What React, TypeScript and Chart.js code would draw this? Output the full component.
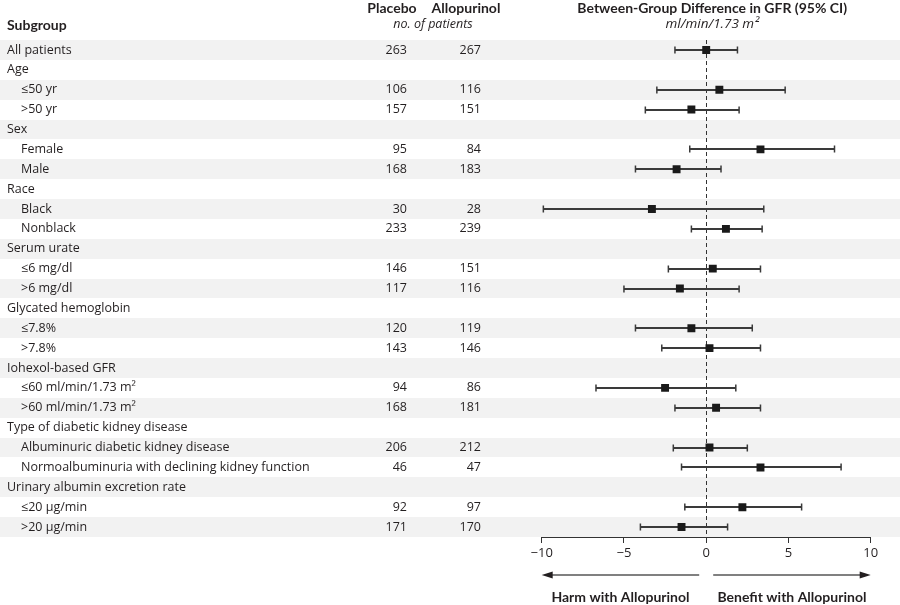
import React, { useEffect, useRef } from "react";
import { Chart, registerables } from "chart.js";

Chart.register(...registerables);

const subgroups = [
  "All patients", "Age", "≤50 yr", ">50 yr", "Sex", "Female", "Male", "Race", "Black", "Nonblack",
  "Serum urate", "≤6 mg/dl", ">6 mg/dl", "Glycated hemoglobin", "≤7.8%", ">7.8%",
  "Iohexol-based GFR", "≤60 ml/min/1.73 m²", ">60 ml/min/1.73 m²", "Type of diabetic kidney disease",
  "Albuminuric diabetic kidney disease", "Normoalbuminuria with declining kidney function",
  "Urinary albumin excretion rate", "≤20 μg/min", ">20 μg/min",
];
const indented = [0, 0, 1, 1, 0, 1, 1, 0, 1, 1, 0, 1, 1, 0, 1, 1, 0, 1, 1, 0, 1, 1, 0, 1, 1];
const placeboN = [263, null, 106, 157, null, 95, 168, null, 30, 233, null, 146, 117, null, 120, 143, null, 94, 168, null, 206, 46, null, 92, 171];
const allopurinolN = [267, null, 116, 151, null, 84, 183, null, 28, 239, null, 151, 116, null, 119, 146, null, 86, 181, null, 212, 47, null, 97, 170];
const estimate = [0.0, null, 0.8, -0.9, null, 3.3, -1.8, null, -3.3, 1.2, null, 0.4, -1.6, null, -0.9, 0.2, null, -2.5, 0.6, null, 0.2, 3.3, null, 2.2, -1.5];
const ciLow = [-1.9, null, -3.0, -3.7, null, -1.0, -4.3, null, -9.9, -0.9, null, -2.3, -5.0, null, -4.3, -2.7, null, -6.7, -1.9, null, -2.0, -1.5, null, -1.3, -4.0];
const ciHigh = [1.9, null, 4.8, 2.0, null, 7.8, 0.9, null, 3.5, 3.4, null, 3.3, 2.0, null, 2.8, 3.3, null, 1.8, 3.3, null, 2.5, 8.2, null, 5.8, 1.3];
const xTicks = [-10, -5, 0, 5, 10];

const FONT = "'Open Sans', 'Noto Sans', sans-serif";
const BOLD_FONT = "Lato, 'Open Sans', sans-serif";
const TEXT = "#231f20";

const forestPlugin = {
  id: "forest",
  beforeDraw(chart: any) {
    const { ctx, scales } = chart;
    const y = scales.y;
    ctx.save();
    ctx.fillStyle = "#ffffff";
    ctx.fillRect(0, 0, chart.width, chart.height);
    ctx.fillStyle = "#f2f2f2";
    subgroups.forEach((_, i) => {
      if (i % 2 === 0) {
        const top = Math.round(y.getPixelForValue(i - 0.5));
        const bot = Math.round(y.getPixelForValue(i + 0.5));
        ctx.fillRect(0, top, chart.width, bot - top);
      }
    });
    ctx.restore();
  },
  beforeDatasetsDraw(chart: any) {
    const { ctx, scales, chartArea } = chart;
    const x = scales.x;
    const y = scales.y;
    ctx.save();
    ctx.textBaseline = "middle";
    ctx.fillStyle = TEXT;

    // headers
    ctx.font = `bold 14px ${BOLD_FONT}`;
    ctx.textAlign = "left";
    ctx.fillText("Subgroup", 7, 25);
    ctx.textAlign = "center";
    ctx.fillText("Placebo", 392, 8);
    ctx.fillText("Allopurinol", 466, 8);
    ctx.fillText("Between-Group Difference in GFR (95% CI)", x.getPixelForValue(0) + 6, 8);
    ctx.font = `italic 12.5px ${FONT}`;
    ctx.fillText("no. of patients", 433, 24);
    ctx.font = `italic 13.5px ${FONT}`;
    ctx.fillText("ml/min/1.73 m²", x.getPixelForValue(0) + 6, 24);

    // rows
    ctx.font = `12.5px ${FONT}`;
    subgroups.forEach((label, i) => {
      const py = y.getPixelForValue(i);
      ctx.textAlign = "left";
      ctx.fillText(label, indented[i] ? 21 : 7, py);
      ctx.textAlign = "right";
      if (placeboN[i] != null) ctx.fillText(String(placeboN[i]), 407, py);
      if (allopurinolN[i] != null) ctx.fillText(String(allopurinolN[i]), 481, py);
    });

    // zero line
    const x0 = x.getPixelForValue(0);
    ctx.strokeStyle = "#333";
    ctx.lineWidth = 1;
    ctx.setLineDash([4, 3]);
    ctx.beginPath();
    ctx.moveTo(Math.round(x0) + 0.5, chartArea.top);
    ctx.lineTo(Math.round(x0) + 0.5, chartArea.bottom);
    ctx.stroke();
    ctx.setLineDash([]);

    // CI bars
    ctx.strokeStyle = "#3a3a3a";
    subgroups.forEach((_, i) => {
      if (ciLow[i] == null || ciHigh[i] == null) return;
      const py = Math.round(y.getPixelForValue(i));
      const a = x.getPixelForValue(ciLow[i]);
      const b = x.getPixelForValue(ciHigh[i]);
      ctx.lineWidth = 2;
      ctx.beginPath();
      ctx.moveTo(a, py);
      ctx.lineTo(b, py);
      ctx.stroke();
      ctx.lineWidth = 1.5;
      ctx.beginPath();
      ctx.moveTo(a, py - 3.5);
      ctx.lineTo(a, py + 3.5);
      ctx.moveTo(b, py - 3.5);
      ctx.lineTo(b, py + 3.5);
      ctx.stroke();
    });

    // arrows
    const ay = 575;
    const xl = x.getPixelForValue(-10);
    const xr = x.getPixelForValue(10);
    ctx.strokeStyle = "#808080";
    ctx.lineWidth = 2;
    ctx.beginPath();
    ctx.moveTo(x0 - 7, ay);
    ctx.lineTo(xl + 10, ay);
    ctx.moveTo(x0 + 7, ay);
    ctx.lineTo(xr - 10, ay);
    ctx.stroke();
    ctx.fillStyle = "#231f20";
    ctx.beginPath();
    ctx.moveTo(xl, ay);
    ctx.lineTo(xl + 11, ay - 3.5);
    ctx.lineTo(xl + 11, ay + 3.5);
    ctx.closePath();
    ctx.fill();
    ctx.beginPath();
    ctx.moveTo(xr, ay);
    ctx.lineTo(xr - 11, ay - 3.5);
    ctx.lineTo(xr - 11, ay + 3.5);
    ctx.closePath();
    ctx.fill();
    ctx.fillStyle = TEXT;
    ctx.font = `bold 14px ${BOLD_FONT}`;
    ctx.textAlign = "center";
    ctx.fillText("Harm with Allopurinol", (xl + x0 - 7) / 2, 597);
    ctx.fillText("Benefit with Allopurinol", (xr + x0 + 7) / 2, 597);
    ctx.restore();
  },
};

export default function App() {
  const ref = useRef<HTMLCanvasElement | null>(null);
  useEffect(() => {
    if (!ref.current) return;
    const points = estimate
      .map((v, i) => (v == null ? null : { x: v, y: i }))
      .filter((p) => p != null);
    const chart = new Chart(ref.current, {
      type: "scatter",
      data: {
        datasets: [
          {
            data: points as any,
            pointStyle: "rect",
            radius: 5.6,
            backgroundColor: "#1a1a1a",
            borderColor: "#1a1a1a",
            borderWidth: 0,
          },
        ],
      },
      options: {
        responsive: false,
        animation: false,
        events: [],
        layout: { padding: { left: 541.7, right: 29.3, top: 40, bottom: 0 } },
        plugins: { legend: { display: false }, tooltip: { enabled: false } },
        scales: {
          x: {
            type: "linear",
            min: -10,
            max: 10,
            afterBuildTicks: (s: any) => {
              s.ticks = xTicks.map((v) => ({ value: v }));
            },
            afterFit: (s: any) => {
              s.height = 68;
            },
            grid: { drawOnChartArea: false, drawTicks: true, tickLength: 6, color: "#333", lineWidth: 1 },
            border: { display: true, color: "#333", width: 1 },
            ticks: {
              padding: 2,
              color: TEXT,
              font: { family: FONT, size: 13 },
              maxRotation: 0,
              autoSkip: false,
              callback: (v: any) => (Number(v) < 0 ? "−" + Math.abs(Number(v)) : String(v)),
            },
          },
          y: {
            type: "linear",
            min: -0.5,
            max: 24.5,
            reverse: true,
            display: false,
          },
        },
      },
      plugins: [forestPlugin],
    });
    return () => chart.destroy();
  }, []);
  return (
    <div style={{ position: "absolute", left: 0, top: 0, width: 900, height: 605 }}>
      <canvas ref={ref} width={900} height={605} style={{ width: 900, height: 605 }} />
    </div>
  );
}
